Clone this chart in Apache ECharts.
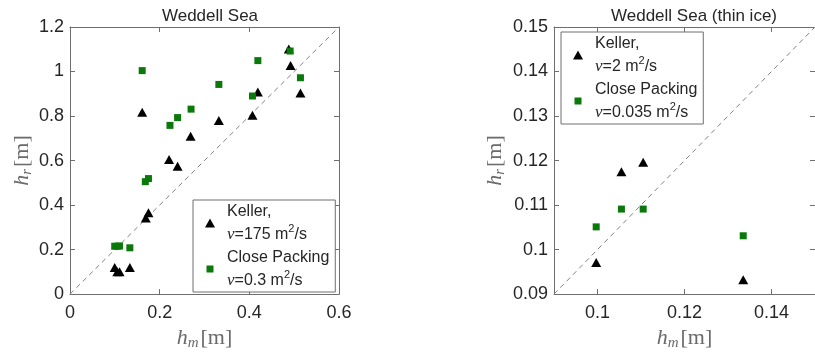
<!DOCTYPE html>
<html>
<head>
<meta charset="utf-8">
<script src="https://cdn.jsdelivr.net/npm/echarts@6/dist/echarts.min.js"></script>
<style>html,body{margin:0;padding:0;background:#fff}#c{width:815px;height:356px}</style>
</head>
<body>
<div id="c"></div>
<script>
// ---- data ----
const titleLeft = 'Weddell Sea';
const titleRight = 'Weddell Sea (thin ice)';

const xTicksL = [0, 0.2, 0.4, 0.6];
const yTicksL = [0, 0.2, 0.4, 0.6, 0.8, 1, 1.2];
const xTicksR = [0.1, 0.12, 0.14];
const yTicksR = [0.09, 0.1, 0.11, 0.12, 0.13, 0.14, 0.15];

const kellerLx = [0.488, 0.492, 0.514, 0.419, 0.407, 0.332, 0.269, 0.221, 0.240, 0.161, 0.175, 0.169, 0.0997, 0.1055, 0.1105, 0.1335];
const kellerLy = [1.101, 1.027, 0.903, 0.908, 0.804, 0.780, 0.709, 0.605, 0.574, 0.817, 0.366, 0.342, 0.120, 0.100, 0.100, 0.119];
const packLx = [0.161, 0.491, 0.419, 0.514, 0.407, 0.332, 0.270, 0.240, 0.223, 0.175, 0.168, 0.0997, 0.1055, 0.1105, 0.1335];
const packLy = [1.004, 1.092, 1.049, 0.972, 0.890, 0.942, 0.831, 0.793, 0.758, 0.519, 0.505, 0.215, 0.215, 0.216, 0.208];

const kellerRx = [0.0997, 0.1055, 0.1105, 0.1335];
const kellerRy = [0.0971, 0.1175, 0.1196, 0.0932];
const packRx = [0.0997, 0.1055, 0.1105, 0.1335];
const packRy = [0.1051, 0.1091, 0.1091, 0.1031];

const diagL = [[0, 0], [0.6, 1.2]];
const diagR = [[0.09, 0.09], [0.15, 0.15]];

const nameKellerL = 'Keller,\n{nu|ν}=175 m{sup|2}/s';
const namePackL = 'Close Packing\n{nu|ν}=0.3 m{sup|2}/s';
const nameKellerR = 'Keller,\n{nu|ν}=2 m{sup|2}/s';
const namePackR = 'Close Packing\n{nu|ν}=0.035 m{sup|2}/s';

// ---- styling ----
const SANS = '"Liberation Sans", Arial, sans-serif';
const SERIF = '"Liberation Serif", "DejaVu Serif", serif';
const AX = '#6e6e6e';
const TXT = '#262626';
const GREEN = '#0a780a';
const NAMEC = '#6a6a6a';
const ICON_TRI = 'path://M0,9L5,0L10,9Z';
const ICON_SQ = 'path://M-1,-1M8,8M0,0L7,0L7,7L0,7Z';

const zip = (xs, ys) => xs.map((x, i) => [x, ys[i]]);

const nameRich = {
  h: {fontFamily: SERIF, fontStyle: 'italic', fontSize: 22, color: NAMEC, lineHeight: 26, verticalAlign: 'middle'},
  s: {fontFamily: SERIF, fontStyle: 'italic', fontSize: 15, color: NAMEC, lineHeight: 12, verticalAlign: 'bottom', padding: [0, 2, 0, 0]},
  b: {fontFamily: SERIF, fontSize: 22, color: NAMEC, lineHeight: 26, verticalAlign: 'middle'}
};
const legendRich = {
  nu: {fontFamily: SERIF, fontStyle: 'italic', fontSize: 17, color: TXT, lineHeight: 23},
  sup: {fontFamily: SANS, fontSize: 11, color: TXT, lineHeight: 10, verticalAlign: 'top'}
};

function valAxis(gridIndex, pos, min, max, ticks, showLabel, name, nameGap) {
  const a = {
    type: 'value', gridIndex, position: pos, min, max,
    axisLine: {show: true, onZero: false, lineStyle: {color: AX, width: 1}},
    axisTick: {show: true, inside: true, length: 5, customValues: ticks, lineStyle: {color: AX}},
    axisLabel: {show: showLabel, customValues: ticks, color: TXT, fontFamily: SANS, fontSize: 18,
      margin: (pos === 'bottom') ? 10 : 6},
    splitLine: {show: false}
  };
  if (name) {
    a.name = name;
    a.nameLocation = 'middle';
    a.nameGap = nameGap;
    a.nameTextStyle = {rich: nameRich};
    if (pos === 'left') a.nameRotate = 90;
  }
  return a;
}

function legendCfg(names, labels, left, top) {
  return {
    data: [{name: names[0], icon: ICON_TRI}, {name: names[1], icon: ICON_SQ}],
    orient: 'vertical', left, top,
    padding: [0, 6, 0, 12], itemGap: 0, itemWidth: 24, itemHeight: 9, symbolKeepAspect: true,
    backgroundColor: '#fff', borderColor: AX, borderWidth: 1, borderRadius: 0,
    selectedMode: false,
    formatter: n => n === names[0] ? labels[0] : labels[1],
    textStyle: {fontFamily: SANS, fontSize: 16, color: TXT, lineHeight: 23, rich: legendRich}
  };
}

const chart = echarts.init(document.getElementById('c'), null, {renderer: 'canvas'});
chart.setOption({
  animation: false,
  backgroundColor: '#fff',
  title: [
    {text: titleLeft, left: 205, top: 3, textAlign: 'center',
      textStyle: {fontFamily: SANS, fontSize: 17, fontWeight: 'normal', color: TXT}},
    {text: titleRight, left: 689, top: 3, textAlign: 'center',
      textStyle: {fontFamily: SANS, fontSize: 17, fontWeight: 'normal', color: TXT}}
  ],
  grid: [
    {left: 70, top: 27, width: 269, height: 269},
    {left: 554, top: 27, width: 270, height: 269}
  ],
  xAxis: [
    valAxis(0, 'bottom', 0, 0.6, xTicksL, true, '{h|h}{s|m}{b|[m]}', 30),
    valAxis(0, 'top', 0, 0.6, xTicksL, false),
    valAxis(1, 'bottom', 0.09, 0.15, xTicksR, true, '{h|h}{s|m}{b|[m]}', 30),
    valAxis(1, 'top', 0.09, 0.15, xTicksR, false)
  ],
  yAxis: [
    valAxis(0, 'left', 0, 1.2, yTicksL, true, '{h|h}{s|r}{b|[m]}', 35),
    valAxis(0, 'right', 0, 1.2, yTicksL, false),
    valAxis(1, 'left', 0.09, 0.15, yTicksR, true, '{h|h}{s|r}{b|[m]}', 46),
    valAxis(1, 'right', 0.09, 0.15, yTicksR, false)
  ],
  legend: [
    legendCfg(['KL', 'PL'], [nameKellerL, namePackL], 193, 200),
    legendCfg(['KR', 'PR'], [nameKellerR, namePackR], 561, 32)
  ],
  series: [
    {type: 'line', xAxisIndex: 0, yAxisIndex: 0, data: diagL, symbol: 'none', silent: true,
      lineStyle: {color: '#808080', width: 1, type: [5, 4]}, z: 1},
    {type: 'line', xAxisIndex: 2, yAxisIndex: 2, data: diagR, symbol: 'none', silent: true,
      lineStyle: {color: '#808080', width: 1, type: [5, 4]}, z: 1},
    {name: 'KL', type: 'scatter', xAxisIndex: 0, yAxisIndex: 0, data: zip(kellerLx, kellerLy),
      symbol: 'triangle', symbolSize: [10, 9], itemStyle: {color: '#000', opacity: 1}, z: 3},
    {name: 'PL', type: 'scatter', xAxisIndex: 0, yAxisIndex: 0, data: zip(packLx, packLy),
      symbol: 'rect', symbolSize: 7, itemStyle: {color: GREEN, opacity: 1}, z: 3},
    {name: 'KR', type: 'scatter', xAxisIndex: 2, yAxisIndex: 2, data: zip(kellerRx, kellerRy),
      symbol: 'triangle', symbolSize: [10, 9], itemStyle: {color: '#000', opacity: 1}, z: 3},
    {name: 'PR', type: 'scatter', xAxisIndex: 2, yAxisIndex: 2, data: zip(packRx, packRy),
      symbol: 'rect', symbolSize: 7, itemStyle: {color: GREEN, opacity: 1}, z: 3}
  ]
});
</script>
</body>
</html>
